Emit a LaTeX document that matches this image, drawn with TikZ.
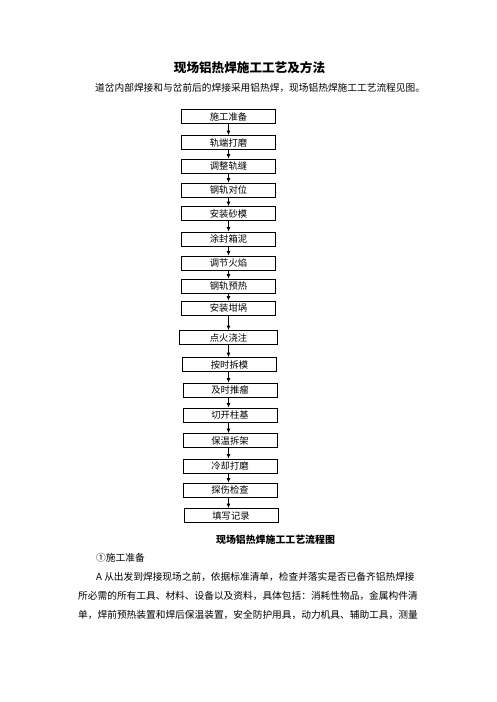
\documentclass[tikz,border=0pt]{standalone}
\usepackage{fontspec}
\setmainfont{Noto Sans CJK SC}
\usetikzlibrary{arrows.meta}
\begin{document}
\begin{tikzpicture}[x=1pt,y=-1pt,
  stepbox/.style={draw,line width=0.8pt,minimum width=94pt,minimum height=14pt,inner sep=0pt,
    font=\fontsize{9.3}{10}\selectfont},
  flow/.style={-{Latex[length=4.5pt,width=4pt]},line width=0.8pt},
  bodytext/.style={anchor=west,inner sep=0pt,font=\fontsize{9.7}{10}\selectfont},
  titletext/.style={inner sep=0pt,font=\fontsize{12.6}{13}\selectfont\bfseries},
  captext/.style={inner sep=0pt,font=\fontsize{9.9}{10}\selectfont\bfseries}]
\useasboundingbox[fill=white] (0,0) rectangle (496,702);

\node[titletext] (title) at (249.5,68) {现场铝热焊施工工艺及方法};
\node[bodytext] (intro) at (95,88) {道岔内部焊接和与岔前后的焊接采用铝热焊，现场铝热焊施工工艺流程见图。};

\node[stepbox] (b1) at (228.5,116.5) {施工准备};
\node[stepbox] (b2) at (228.5,142.5) {轨端打磨};
\node[stepbox] (b3) at (228.5,166) {调整轨缝};
\node[stepbox] (b4) at (228.5,190) {钢轨对位};
\node[stepbox] (b5) at (228.5,213.5) {安装砂模};
\node[stepbox] (b6) at (228.5,239) {涂封箱泥};
\node[stepbox] (b7) at (228.5,263) {调节火焰};
\node[stepbox] (b8) at (228.5,286) {钢轨预热};
\node[stepbox] (b9) at (228.5,308) {安装坩埚};
\node[stepbox,minimum width=98pt] (b10) at (228.5,337.5) {点火浇注};
\node[stepbox] (b11) at (229.5,364.5) {按时拆模};
\node[stepbox] (b12) at (230,390) {及时推瘤};
\node[stepbox] (b13) at (230,415) {切开柱基};
\node[stepbox] (b14) at (230,440.5) {保温拆架};
\node[stepbox] (b15) at (230,466) {冷却打磨};
\node[stepbox] (b16) at (230,490) {探伤检查};
\node[stepbox] (b17) at (231,515.5) {填写记录};

\foreach \a/\b in {b1/b2,b2/b3,b3/b4,b4/b5,b5/b6,b6/b7,b7/b8,b8/b9,b9/b10,b10/b11,b11/b12,b12/b13,b13/b14,b14/b15,b15/b16,b16/b17}
  \draw[flow] (\a.south -| b1.center) -- (\b.north -| b1.center);

\node[captext] (cap) at (275.5,540) {现场铝热焊施工工艺流程图};
\node[bodytext] (p0) at (96,558) {①施工准备};
\node[bodytext] (p1) at (96,577) {A 从出发到焊接现场之前，依据标准清单，检查并落实是否已备齐铝热焊接};
\node[bodytext] (p2) at (78,596) {所必需的所有工具、材料、设备以及资料，具体包括：消耗性物品，金属构件清};
\node[bodytext] (p3) at (78,614.5) {单，焊前预热装置和焊后保温装置，安全防护用具，动力机具、辅助工具，测量};
\end{tikzpicture}
\end{document}
